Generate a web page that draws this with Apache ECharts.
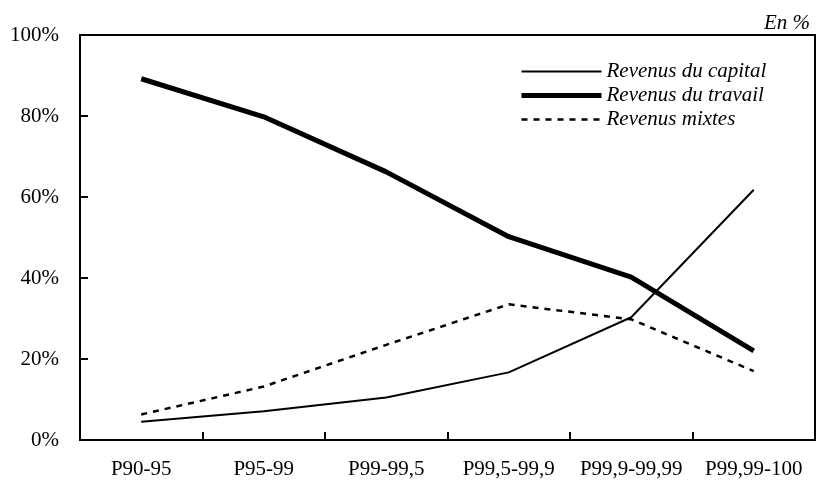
<!DOCTYPE html>
<html>
<head>
<meta charset="utf-8">
<script src="https://cdn.jsdelivr.net/npm/echarts@6/dist/echarts.min.js"></script>
<style>html,body{margin:0;padding:0;background:#fff}#c{width:820px;height:482px}</style>
</head>
<body>
<div id="c"></div>
<script>
const categories = ['P90-95', 'P95-99', 'P99-99,5', 'P99,5-99,9', 'P99,9-99,99', 'P99,99-100'];
const capital = [4.5, 7.1, 10.5, 16.7, 30.3, 61.8];
const travail = [89.2, 79.8, 66.2, 50.2, 40.2, 22.0];
const mixtes = [6.3, 13.2, 23.5, 33.5, 29.8, 17.0];
const seriesNames = ['Revenus du capital', 'Revenus du travail', 'Revenus mixtes'];
const yTicks = [0, 20, 40, 60, 80, 100];

const font = 'Liberation Serif';
const fs = 21;
const widths = [2, 5, 2.5];
const types = ['solid', 'solid', [6, 6]];
const chart = echarts.init(document.getElementById('c'));
chart.setOption({
  animation: false,
  backgroundColor: '#fff',
  title: {
    text: 'En %', right: 5, top: 8,
    textStyle: { fontFamily: font, fontStyle: 'italic', fontWeight: 'normal', fontSize: fs, color: '#000' }
  },
  grid: { left: 80, right: 5, top: 35, bottom: 42, show: true, borderColor: '#000', borderWidth: 2, backgroundColor: 'transparent' },
  legend: {
    orient: 'vertical', left: 514, top: 56, itemWidth: 80, itemHeight: 12, itemGap: 3,
    itemStyle: { opacity: 0 },
    data: seriesNames.map((n, i) => ({ name: n, lineStyle: { width: widths[i], type: types[i], color: '#000' } })),
    textStyle: { fontFamily: font, fontStyle: 'italic', fontSize: fs, color: '#000' }
  },
  xAxis: {
    type: 'category', data: categories, boundaryGap: true,
    axisLine: { lineStyle: { color: '#000', width: 2 } },
    axisTick: { show: true, alignWithLabel: false, inside: true, length: 8, interval: 0, lineStyle: { color: '#000', width: 2 } },
    axisLabel: { fontFamily: font, fontSize: fs, color: '#000', margin: 19, interval: 0, hideOverlap: false },
    splitLine: { show: false }
  },
  yAxis: {
    type: 'value', min: yTicks[0], max: yTicks[yTicks.length - 1], interval: 20,
    axisLine: { show: true, lineStyle: { color: '#000', width: 2 } },
    axisTick: { show: true, inside: true, length: 8, lineStyle: { color: '#000', width: 2 } },
    axisLabel: { fontFamily: font, fontSize: fs, color: '#000', margin: 21, formatter: '{value}%' },
    splitLine: { show: false }
  },
  series: [
    { name: seriesNames[0], type: 'line', data: capital, symbol: 'none', color: '#000', lineStyle: { color: '#000', width: widths[0] } },
    { name: seriesNames[1], type: 'line', data: travail, symbol: 'none', color: '#000', lineStyle: { color: '#000', width: widths[1] } },
    { name: seriesNames[2], type: 'line', data: mixtes, symbol: 'none', color: '#000', lineStyle: { color: '#000', width: widths[2], type: types[2] } }
  ]
});
</script>
</body>
</html>
